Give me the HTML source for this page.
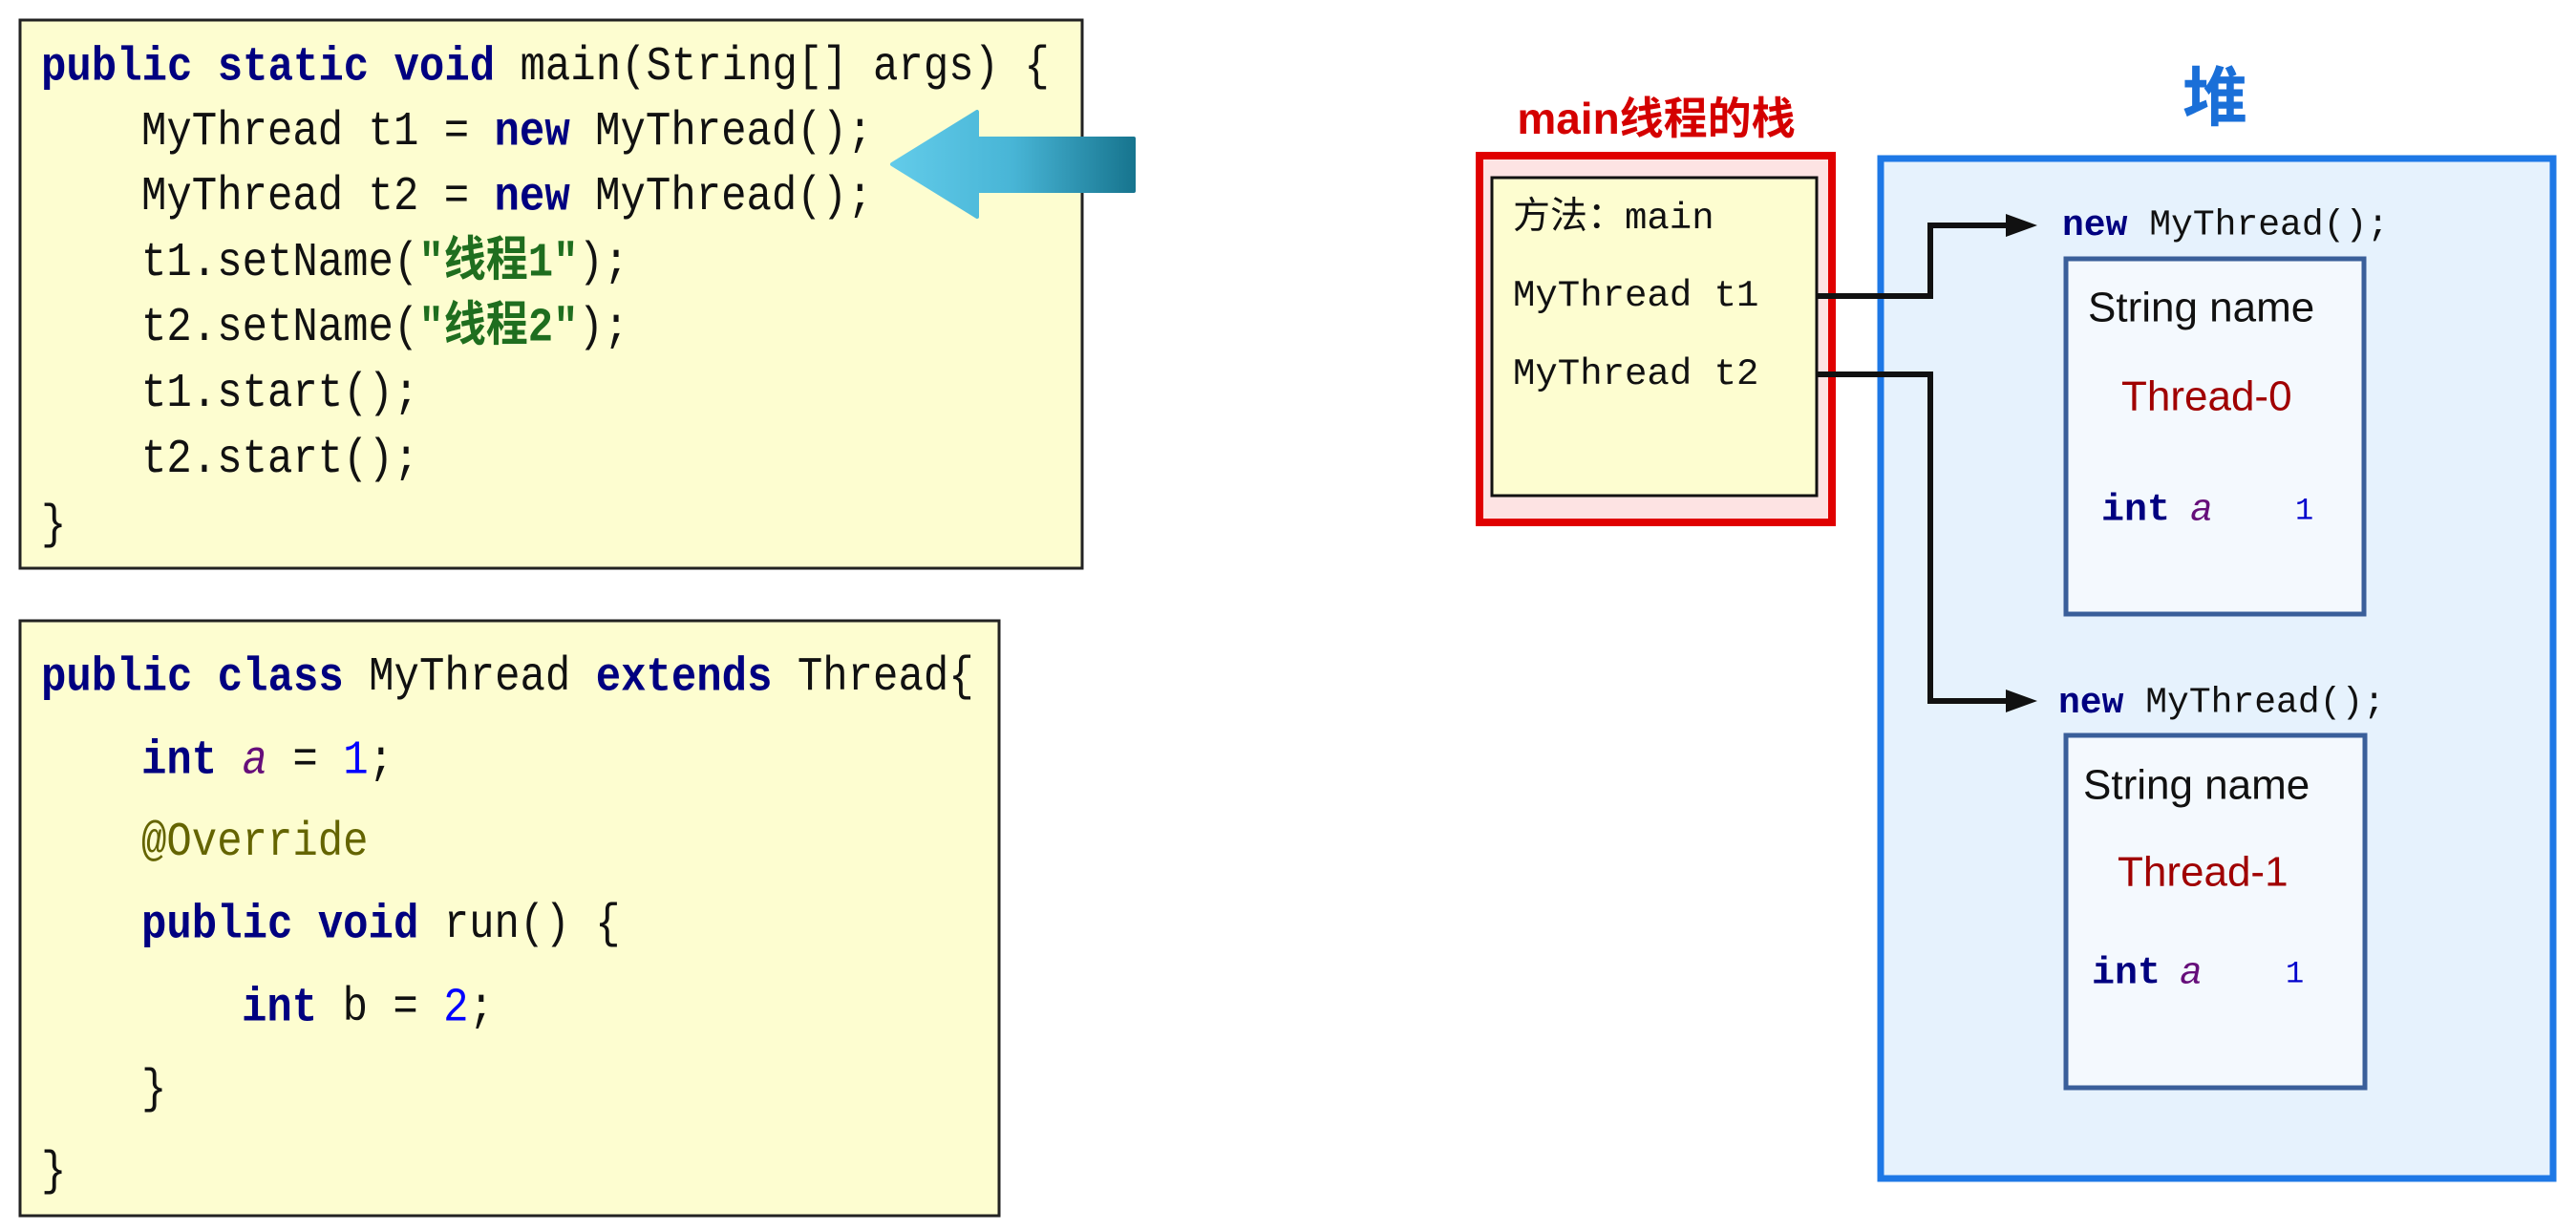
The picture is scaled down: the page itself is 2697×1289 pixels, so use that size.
<!DOCTYPE html>
<html><head><meta charset="utf-8"><style>
html,body{margin:0;padding:0;background:#fff;}
svg{display:block;}
.m{font-family:"Liberation Mono","Noto Sans CJK SC",monospace;}
.s{font-family:"Liberation Sans","Noto Sans CJK SC",sans-serif;}
.k{fill:#000080;font-weight:bold;}
</style></head><body>
<svg width="2697" height="1289" viewBox="0 0 2697 1289" xmlns="http://www.w3.org/2000/svg">
<defs>
<linearGradient id="ag" x1="0" y1="0" x2="1" y2="0">
<stop offset="0" stop-color="#62cbe9"/><stop offset="0.5" stop-color="#48b5d6"/><stop offset="1" stop-color="#17758f"/>
</linearGradient>
</defs>
<!-- code box 1 -->
<rect x="21" y="21" width="1112" height="574" fill="#fdfdd0" stroke="#222" stroke-width="3"/>
<g class="m" font-size="50" dominant-baseline="central" fill="#111" transform="scale(0.88,1)">
<text x="48.9" y="71"><tspan class="k">public static void</tspan> main(String[] args) {</text>
<text x="168.2" y="139">MyThread t1 = <tspan class="k">new</tspan> MyThread();</text>
<text x="168.2" y="207">MyThread t2 = <tspan class="k">new</tspan> MyThread();</text>
<text x="168.2" y="276">t1.setName(<tspan fill="#1f6e1f" font-weight="bold">"线程1"</tspan>);</text>
<text x="168.2" y="344">t2.setName(<tspan fill="#1f6e1f" font-weight="bold">"线程2"</tspan>);</text>
<text x="168.2" y="413">t1.start();</text>
<text x="168.2" y="482">t2.start();</text>
<text x="48.9" y="551">}</text>
</g>
<!-- arrow -->
<path d="M934 172 L1023 117 L1023 145 L1187 145 L1187 200 L1023 200 L1023 227 Z" fill="url(#ag)" stroke="url(#ag)" stroke-width="4" stroke-linejoin="round"/>
<!-- code box 2 -->
<rect x="21" y="650" width="1025" height="623" fill="#fdfdd0" stroke="#222" stroke-width="3"/>
<g class="m" font-size="50" dominant-baseline="central" fill="#111" transform="scale(0.88,1)">
<text x="48.9" y="710"><tspan class="k">public class</tspan> MyThread <tspan class="k">extends</tspan> Thread{</text>
<text x="168.2" y="797"><tspan class="k">int</tspan> <tspan fill="#660e7a" font-style="italic">a</tspan> = <tspan fill="#0000ff">1</tspan>;</text>
<text x="168.2" y="883" fill="#646400">@Override</text>
<text x="168.2" y="969"><tspan class="k">public void</tspan> run() {</text>
<text x="287.5" y="1056"><tspan class="k">int</tspan> b = <tspan fill="#0000ff">2</tspan>;</text>
<text x="168.2" y="1142">}</text>
<text x="48.9" y="1228">}</text>
</g>
<!-- stack -->
<text x="1734" y="124" class="s" font-size="46" font-weight="bold" fill="#d40000" text-anchor="middle" dominant-baseline="central">main线程的栈</text>
<rect x="1549" y="163" width="369" height="384" fill="#fde3e3" stroke="#e00000" stroke-width="8"/>
<rect x="1562" y="186" width="340" height="333" fill="#fdfdd0" stroke="#111" stroke-width="3"/>
<g class="m" font-size="39" dominant-baseline="central" fill="#111">
<text x="1584" y="229">方法：main</text>
<text x="1584" y="310">MyThread t1</text>
<text x="1584" y="392">MyThread t2</text>
</g>
<!-- heap -->
<text x="2319" y="103" class="s" font-size="68" font-weight="bold" fill="#1a6fd8" text-anchor="middle" dominant-baseline="central">堆</text>
<rect x="1969" y="166" width="704" height="1068" fill="#e6f2fd" stroke="#1e78e6" stroke-width="7"/>
<!-- connectors -->
<g fill="none" stroke="#111" stroke-width="6">
<polyline points="1902,310 2021,310 2021,236 2105,236"/>
<polyline points="1902,392 2021,392 2021,734 2105,734"/>
</g>
<path d="M2100 224 L2133 236 L2100 248 Z" fill="#111"/>
<path d="M2100 722 L2133 734 L2100 746 Z" fill="#111"/>
<!-- objects -->
<g class="m" font-size="38" dominant-baseline="central" fill="#111">
<text x="2159" y="236"><tspan class="k">new</tspan> MyThread();</text>
<text x="2155" y="736"><tspan class="k">new</tspan> MyThread();</text>
</g>
<rect x="2163" y="271" width="312" height="372" fill="#f4f9fe" stroke="#3a5f9a" stroke-width="5"/>
<rect x="2163" y="770" width="313" height="369" fill="#f4f9fe" stroke="#3a5f9a" stroke-width="5"/>
<g class="s" font-size="44" dominant-baseline="central">
<text x="2186" y="322" fill="#111">String name</text>
<text x="2221" y="415" fill="#a00000">Thread-0</text>
<text x="2181" y="822" fill="#111">String name</text>
<text x="2217" y="913" fill="#a00000">Thread-1</text>
</g>
<g class="m" dominant-baseline="central">
<text x="2200" y="535" font-size="40" class="k">int</text>
<text x="2293" y="535" font-size="40" fill="#660e7a" font-style="italic">a</text>
<text x="2403" y="535" font-size="32" fill="#0000cc">1</text>
<text x="2190" y="1020" font-size="40" class="k">int</text>
<text x="2282" y="1020" font-size="40" fill="#660e7a" font-style="italic">a</text>
<text x="2393" y="1020" font-size="32" fill="#0000cc">1</text>
</g>
</svg>
</body></html>
